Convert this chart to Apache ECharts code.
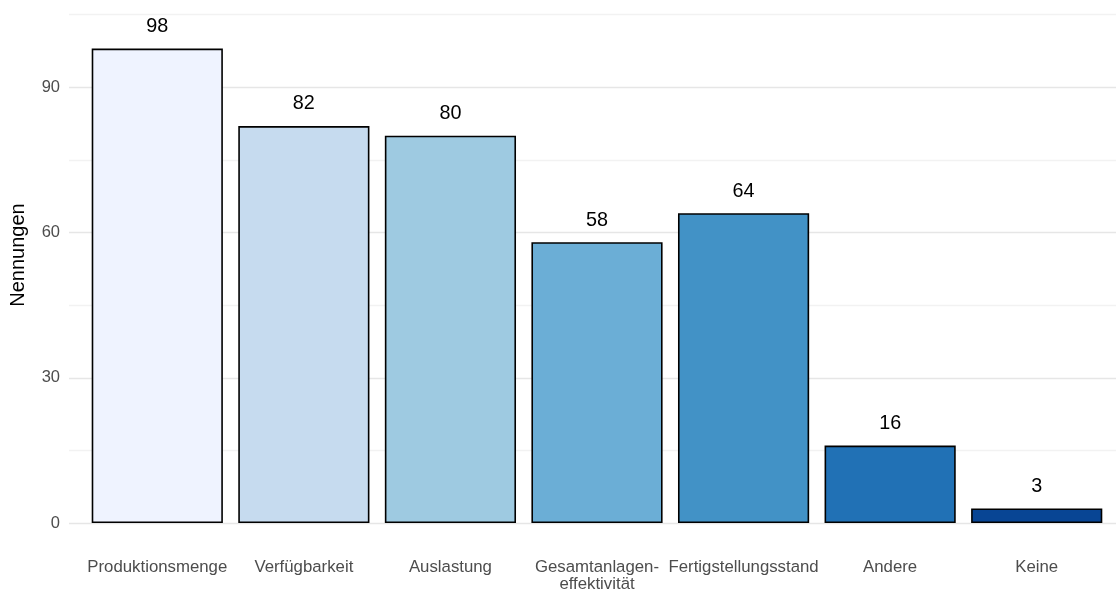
<!DOCTYPE html>
<html>
<head>
<meta charset="utf-8">
<style>html,body{margin:0;padding:0;background:#fff}#c{width:1116px;height:591px}</style>
<script src="https://cdn.jsdelivr.net/npm/echarts@6/dist/echarts.min.js"></script>
</head>
<body>
<div id="c"></div>
<script>
const categories = ['Produktionsmenge', 'Verfügbarkeit', 'Auslastung', 'Gesamtanlagen-\neffektivität', 'Fertigstellungsstand', 'Andere', 'Keine'];
const values = [98, 82, 80, 58, 64, 16, 3];
const barColors = ['#EFF3FF', '#C6DBEF', '#9ECAE1', '#6BAED6', '#4292C6', '#2171B5', '#084594'];
const yTickLabels = [0, 30, 60, 90];
const yTitle = 'Nennungen';

const FONT = '"Liberation Sans", Arial, sans-serif';
const Y_MIN = 0, Y_MAX = 107;

const chart = echarts.init(document.getElementById('c'), null, {renderer: 'canvas'});
chart.setOption({
  animation: false,
  backgroundColor: '#ffffff',
  grid: [
    {left: 69, width: 1060, top: 5, bottom: 68, containLabel: false, outerBoundsMode: 'none'},
    {left: 84, right: 6, top: 5, bottom: 68, containLabel: false, outerBoundsMode: 'none'}
  ],
  xAxis: [
    {gridIndex: 0, type: 'value', min: 0, max: 1, show: false},
    {gridIndex: 1, type: 'category', data: categories,
     axisLine: {show: false}, axisTick: {show: false}, splitLine: {show: false},
     axisLabel: {color: '#4d4d4d', fontSize: 16.8, fontFamily: FONT, margin: 36, lineHeight: 17, interval: 0}}
  ],
  yAxis: [
    {gridIndex: 0, type: 'value', min: Y_MIN, max: Y_MAX, interval: 15,
     axisLine: {show: false}, axisTick: {show: false},
     axisLabel: {color: '#4d4d4d', fontSize: 16.5, fontFamily: FONT, margin: 9,
       formatter: v => yTickLabels.indexOf(v) >= 0 ? String(v) : ''},
     splitLine: {show: true, showMaxLine: false, lineStyle: {color: ['#e6e6e6', '#f2f2f2'], width: 1.3}}},
    {gridIndex: 1, type: 'value', min: Y_MIN, max: Y_MAX, show: false, splitLine: {show: false}}
  ],
  series: [{
    type: 'bar',
    xAxisIndex: 1, yAxisIndex: 1,
    barCategoryGap: '10.5%',
    data: values.map((v, i) => ({value: v, itemStyle: {color: barColors[i]}})),
    itemStyle: {borderColor: '#000000', borderWidth: 1.6},
    label: {show: true, position: 'top', distance: 12, color: '#000000', fontSize: 19.8, fontFamily: FONT}
  }],
  graphic: [{type: 'text', id: 'yt', rotation: Math.PI / 2, x: 18, y: 255,
    style: {text: yTitle, fontSize: 20, fontFamily: FONT, fill: '#000000', align: 'center', verticalAlign: 'middle'}}]
});
</script>
</body>
</html>
